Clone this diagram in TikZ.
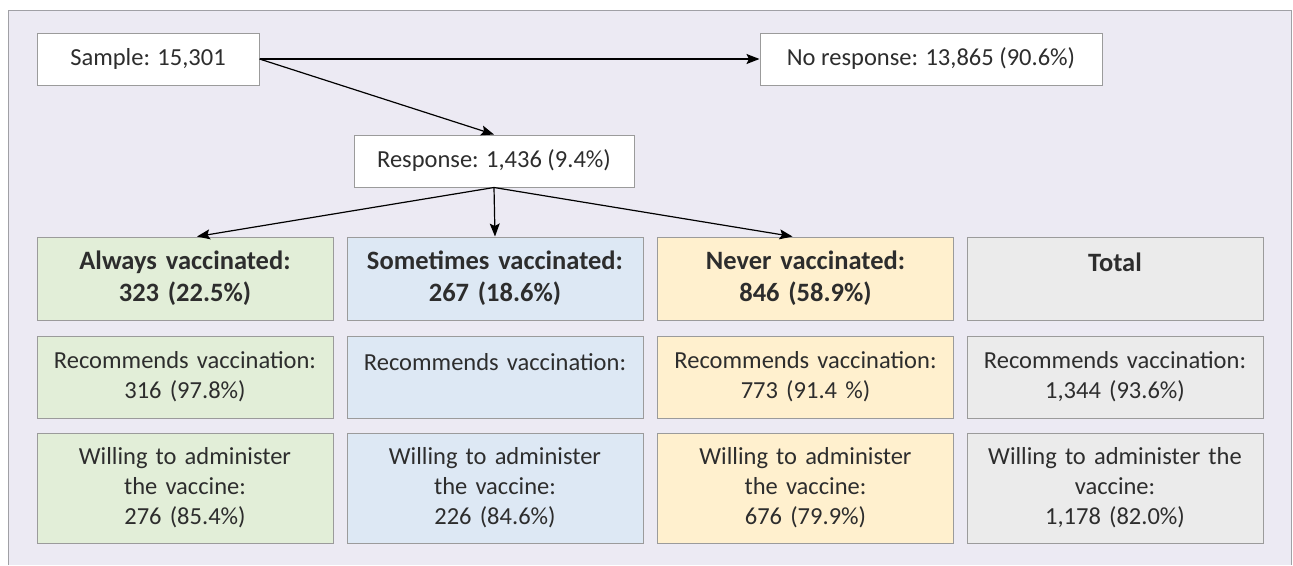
\documentclass[tikz,border=0pt]{standalone}
\usepackage{fontspec}
\setmainfont{Carlito}
\usetikzlibrary{arrows.meta}

\definecolor{panelbg}{RGB}{236,234,243}
\definecolor{panelline}{RGB}{160,160,165}
\definecolor{boxline}{RGB}{155,155,155}
\definecolor{txt}{RGB}{45,45,45}
\definecolor{alwaysfill}{RGB}{226,238,216}
\definecolor{sometimesfill}{RGB}{221,232,244}
\definecolor{neverfill}{RGB}{255,240,206}
\definecolor{totalfill}{RGB}{235,235,235}

\tikzset{
  flowbox/.style={draw=boxline, line width=1pt, fill=white, text=txt,
    align=center, inner sep=0pt, font=\fontsize{24.5}{30}\selectfont},
  groupbox/.style={flowbox, minimum width=296, text width=290},
  headbox/.style={groupbox, minimum height=83, font=\fontsize{26.5}{32}\selectfont\bfseries},
  flowarrow/.style={draw=black, line width=1.2pt, -{Stealth[length=13pt,width=10pt,inset=2.5pt]}}
}

\begin{document}
\begin{tikzpicture}[x=1pt, y=-1pt]
\useasboundingbox (0,0) rectangle (1293,565);
\fill[panelbg] (8,10) rectangle (1291,565);
\draw[panelline, line width=1pt] (8,565) -- (8,10) -- (1291,10) -- (1291,565);

% top of the flow
\node[flowbox, minimum width=222, minimum height=52] (sample) at (148,59) {Sample: 15,301};
\node[flowbox, minimum width=342, minimum height=52] (noresp) at (931,59) {No response: 13,865 (90.6\%)};
\node[flowbox, minimum width=280, minimum height=52] (resp) at (494,161) {Response: 1,436 (9.4\%)};

% vaccination groups
\node[headbox, fill=alwaysfill] (always) at (185,278.5) {Always vaccinated:\\323 (22.5\%)};
\node[headbox, fill=sometimesfill] (sometimes) at (495,278.5) {Sometimes vaccinated:\\267 (18.6\%)};
\node[headbox, fill=neverfill] (never) at (805.5,278.5) {Never vaccinated:\\846 (58.9\%)};
\node[headbox, fill=totalfill] (total) at (1115,278.5) {Total\\\mbox{}};

% recommends vaccination
\node[groupbox, fill=alwaysfill, minimum height=82] (alwaysrec) at (185,377) {Recommends vaccination:\\316 (97.8\%)};
\node[groupbox, fill=sometimesfill, minimum height=82] (sometimesrec) at (495,377) {Recommends vaccination:\\\mbox{}};
\node[groupbox, fill=neverfill, minimum height=82] (neverrec) at (805.5,377) {Recommends vaccination:\\773 (91.4 \%)};
\node[groupbox, fill=totalfill, minimum height=82] (totalrec) at (1115,377) {Recommends vaccination:\\1,344 (93.6\%)};

% willing to administer
\node[groupbox, fill=alwaysfill, minimum height=110] (alwayswill) at (185,488) {Willing to administer\\the vaccine:\\276 (85.4\%)};
\node[groupbox, fill=sometimesfill, minimum height=110] (sometimeswill) at (495,488) {Willing to administer\\the vaccine:\\226 (84.6\%)};
\node[groupbox, fill=neverfill, minimum height=110] (neverwill) at (805.5,488) {Willing to administer\\the vaccine:\\676 (79.9\%)};
\node[groupbox, fill=totalfill, minimum height=110] (totalwill) at (1115,488) {Willing to administer the\\vaccine:\\1,178 (82.0\%)};

\draw[flowarrow] (sample.east) -- (noresp.west);
\draw[flowarrow] (sample.east) -- (resp.north);
\draw[flowarrow] (resp.south) -- ([xshift=12]always.north);
\draw[flowarrow] (resp.south) -- (sometimes.north);
\draw[flowarrow] (resp.south) -- ([xshift=-13]never.north);

\end{tikzpicture}
\end{document}
